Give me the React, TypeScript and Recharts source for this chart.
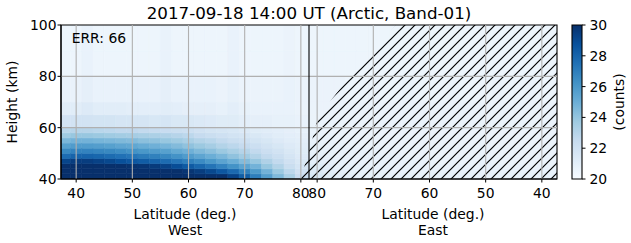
import React from 'react';
import { ComposedChart, XAxis, YAxis, ReferenceArea, ReferenceLine, Area, Line } from 'recharts';

const FONT = 'DejaVu Sans, sans-serif';

// along-track axis: West latitudes up to the pole crossing, then East latitudes mirrored
const xMin = 37.3;
const xMax = 125.6;
const poleX = 81.45;
const mirror = 162.9;

const westTicks = [40, 50, 60, 70, 80];
const eastTicks = [80, 70, 60, 50, 40];
const heightTicks = [40, 60, 80, 100];
const countTicks = [20, 22, 24, 26, 28, 30];

const latCentres = [38, 40, 42, 44, 46, 48, 50, 52, 54, 56, 58, 60, 62, 64, 66, 68, 70, 72, 74, 76, 78, 80];
const heightEdges = [40, 42, 44, 46, 48, 50, 52, 54, 56, 58, 60, 65, 70, 80, 90, 100];

// counts per latitude column, from 40 km upward
const westCounts = [
  [30, 30, 30, 29.2, 27.7, 26.6, 25.6, 24.6, 23.7, 22.9, 21.9, 21.1, 20.7, 20.5, 20.5],
  [30, 30, 30, 29.5, 28.0, 26.8, 25.8, 24.8, 23.9, 23.0, 21.9, 21.1, 20.7, 20.5, 20.5],
  [30, 30, 30, 29.5, 28.0, 26.8, 25.8, 24.8, 23.9, 23.0, 21.9, 21.3, 20.9, 20.7, 20.7],
  [30, 30, 30, 29.3, 27.9, 26.7, 25.7, 24.7, 23.8, 22.9, 21.8, 21.1, 20.7, 20.5, 20.5],
  [30, 30, 30, 29.1, 27.7, 26.6, 25.6, 24.6, 23.7, 22.8, 21.8, 21.1, 20.7, 20.5, 20.5],
  [30, 30, 30, 28.8, 27.5, 26.4, 25.4, 24.5, 23.6, 22.7, 21.7, 21.1, 20.7, 20.5, 20.5],
  [30, 30, 29.9, 28.5, 27.3, 26.2, 25.3, 24.4, 23.5, 22.7, 21.7, 21.0, 20.7, 20.5, 20.5],
  [30, 30, 29.8, 28.3, 27.1, 26.0, 25.1, 24.2, 23.4, 22.6, 21.7, 21.0, 20.7, 20.5, 20.5],
  [30, 30, 29.6, 28.0, 26.9, 25.8, 24.9, 24.1, 23.3, 22.5, 21.6, 21.0, 20.7, 20.5, 20.5],
  [30, 30, 29.3, 27.7, 26.6, 25.6, 24.7, 23.9, 23.2, 22.4, 21.7, 21.1, 20.9, 20.7, 20.7],
  [30, 30, 28.9, 27.3, 26.2, 25.2, 24.4, 23.7, 23.0, 22.3, 21.5, 21.0, 20.7, 20.5, 20.5],
  [30, 29.8, 28.4, 26.9, 25.8, 24.9, 24.1, 23.4, 22.8, 22.2, 21.5, 20.9, 20.7, 20.5, 20.5],
  [30, 29.5, 27.9, 26.5, 25.4, 24.5, 23.8, 23.1, 22.5, 22.0, 21.4, 20.9, 20.7, 20.5, 20.5],
  [30, 29.1, 27.4, 26.0, 25.0, 24.2, 23.5, 22.9, 22.3, 21.8, 21.3, 20.9, 20.7, 20.5, 20.5],
  [30, 28.5, 26.8, 25.5, 24.6, 23.8, 23.1, 22.6, 22.1, 21.7, 21.2, 20.8, 20.6, 20.5, 20.5],
  [29.3, 27.8, 26.2, 25.0, 24.1, 23.4, 22.8, 22.3, 21.9, 21.6, 21.2, 21.0, 20.8, 20.7, 20.7],
  [28.3, 26.9, 25.5, 24.4, 23.6, 23.0, 22.5, 22.1, 21.7, 21.4, 21.0, 20.8, 20.6, 20.5, 20.5],
  [27.0, 25.9, 24.8, 23.9, 23.1, 22.6, 22.2, 21.8, 21.5, 21.2, 20.9, 20.7, 20.6, 20.5, 20.5],
  [25.7, 24.8, 23.9, 23.2, 22.6, 22.2, 21.9, 21.6, 21.3, 21.1, 20.9, 20.7, 20.6, 20.5, 20.5],
  [24.5, 23.8, 23.1, 22.6, 22.2, 21.9, 21.6, 21.3, 21.1, 21.0, 20.8, 20.7, 20.6, 20.5, 20.5],
  [23.4, 22.8, 22.3, 22.0, 21.7, 21.5, 21.3, 21.1, 21.0, 20.9, 20.8, 20.7, 20.7, 20.6, 20.6],
  [22.4, 22.0, 21.7, 21.5, 21.3, 21.2, 21.1, 21.0, 20.9, 20.8, 20.7, 20.6, 20.6, 20.5, 20.5],
];

const eastCounts = [
  [20.7, 20.7, 20.6, 20.6, 20.6, 20.6, 20.6, 20.6, 20.6, 20.6, 20.6, 20.6, 20.5, 20.5, 20.5],
  [20.7, 20.7, 20.7, 20.6, 20.6, 20.6, 20.6, 20.6, 20.6, 20.6, 20.6, 20.6, 20.5, 20.5, 20.5],
  [20.7, 20.7, 20.6, 20.6, 20.6, 20.6, 20.6, 20.6, 20.6, 20.6, 20.6, 20.6, 20.6, 20.5, 20.5],
  [20.7, 20.7, 20.7, 20.6, 20.6, 20.6, 20.6, 20.6, 20.6, 20.6, 20.6, 20.6, 20.5, 20.5, 20.5],
  [20.7, 20.7, 20.6, 20.6, 20.6, 20.6, 20.6, 20.6, 20.6, 20.6, 20.6, 20.6, 20.5, 20.5, 20.5],
  [20.7, 20.7, 20.7, 20.6, 20.6, 20.6, 20.6, 20.6, 20.6, 20.6, 20.6, 20.6, 20.6, 20.5, 20.5],
  [20.7, 20.7, 20.7, 20.7, 20.6, 20.6, 20.6, 20.6, 20.6, 20.6, 20.6, 20.6, 20.5, 20.5, 20.5],
  [20.7, 20.7, 20.6, 20.6, 20.6, 20.6, 20.6, 20.6, 20.6, 20.6, 20.6, 20.6, 20.5, 20.5, 20.5],
  [20.7, 20.7, 20.7, 20.6, 20.6, 20.6, 20.6, 20.6, 20.6, 20.6, 20.6, 20.6, 20.5, 20.5, 20.5],
  [20.7, 20.7, 20.7, 20.7, 20.6, 20.6, 20.6, 20.6, 20.6, 20.6, 20.6, 20.6, 20.6, 20.5, 20.5],
  [20.7, 20.7, 20.7, 20.6, 20.6, 20.6, 20.6, 20.6, 20.6, 20.6, 20.6, 20.6, 20.5, 20.5, 20.5],
  [20.7, 20.7, 20.7, 20.7, 20.6, 20.6, 20.6, 20.6, 20.6, 20.6, 20.6, 20.6, 20.5, 20.5, 20.5],
  [20.7, 20.7, 20.7, 20.7, 20.6, 20.6, 20.6, 20.6, 20.6, 20.6, 20.6, 20.6, 20.5, 20.5, 20.5],
  [20.8, 20.7, 20.7, 20.7, 20.6, 20.6, 20.6, 20.6, 20.6, 20.6, 20.6, 20.6, 20.6, 20.5, 20.5],
  [20.8, 20.7, 20.7, 20.7, 20.7, 20.6, 20.6, 20.6, 20.6, 20.6, 20.6, 20.6, 20.5, 20.5, 20.5],
  [20.8, 20.8, 20.7, 20.7, 20.7, 20.6, 20.6, 20.6, 20.6, 20.6, 20.6, 20.6, 20.5, 20.5, 20.5],
  [20.8, 20.8, 20.7, 20.7, 20.7, 20.7, 20.6, 20.6, 20.6, 20.6, 20.6, 20.6, 20.6, 20.5, 20.5],
  [20.8, 20.8, 20.8, 20.7, 20.7, 20.7, 20.6, 20.6, 20.6, 20.6, 20.6, 20.6, 20.5, 20.5, 20.5],
  [20.9, 20.8, 20.8, 20.7, 20.7, 20.7, 20.6, 20.6, 20.6, 20.6, 20.6, 20.6, 20.5, 20.5, 20.5],
  [21.0, 20.9, 20.8, 20.8, 20.7, 20.7, 20.7, 20.6, 20.6, 20.6, 20.6, 20.6, 20.6, 20.5, 20.5],
  [21.2, 21.1, 21.0, 20.9, 20.8, 20.8, 20.7, 20.7, 20.7, 20.6, 20.6, 20.6, 20.6, 20.5, 20.5],
  [21.6, 21.4, 21.2, 21.0, 20.9, 20.8, 20.8, 20.7, 20.7, 20.7, 20.6, 20.6, 20.6, 20.5, 20.5],
];

// edge of the no-data (hatched) region: top height reached at each along-track position
const hatchEdge = [
  { x: 79.3, top: 40 },
  { x: 80.4, top: 43.5 },
  { x: 81.3, top: 49.4 },
  { x: 82.0, top: 55.2 },
  { x: 82.9, top: 63.0 },
  { x: 85.4, top: 70.8 },
  { x: 88.9, top: 80.5 },
  { x: 92.9, top: 90.3 },
  { x: 97.0, top: 100 },
  { x: 125.6, top: 100 },
];

const bluesRamp = ['#f7fbff', '#deebf7', '#c6dbef', '#9ecae1', '#6baed6', '#4292c6', '#2171b5', '#08519c', '#08306b'];

const toRgb = (h: string) => [1, 3, 5].map((i) => parseInt(h.slice(i, i + 2), 16));

function countColour(v: number) {
  const t = Math.min(Math.max((v - 20) / 10, 0), 1) * (bluesRamp.length - 1);
  const i = Math.min(Math.floor(t), bluesRamp.length - 2);
  const f = t - i;
  const a = toRgb(bluesRamp[i]);
  const b = toRgb(bluesRamp[i + 1]);
  return `rgb(${a.map((c, k) => Math.round(c + (b[k] - c) * f)).join(',')})`;
}

const latEdges = latCentres.map((c, i) => (i === 0 ? xMin : (latCentres[i - 1] + c) / 2)).concat(poleX);

const cells: { x1: number; x2: number; y1: number; y2: number; fill: string }[] = [];
latCentres.forEach((_, i) => {
  westCounts[i].forEach((v, j) => {
    cells.push({ x1: latEdges[i], x2: latEdges[i + 1], y1: heightEdges[j], y2: heightEdges[j + 1], fill: countColour(v) });
  });
  eastCounts[i].forEach((v, j) => {
    cells.push({ x1: mirror - latEdges[i + 1], x2: mirror - latEdges[i], y1: heightEdges[j], y2: heightEdges[j + 1], fill: countColour(v) });
  });
});

const xTicks = [...westTicks, ...eastTicks.map((l) => mirror - l)];
const latLabel = (v: number) => String(Math.round(v <= poleX ? v : mirror - v));

const tickStyle = { fill: '#000', fontSize: 13.9, fontFamily: FONT };

const sideLabel = (side: string) => (props: any) => {
  const vb = props.viewBox;
  return (
    <text x={vb.x} y={vb.y + vb.height + 39.6} textAnchor="middle" fontSize={13.9} fontFamily={FONT} fill="#000">
      <tspan x={vb.x}>Latitude (deg.)</tspan>
      <tspan x={vb.x} dy={16}>{side}</tspan>
    </text>
  );
};

const heightLabel = (props: any) => {
  const vb = props.viewBox;
  const x = vb.x + 16.5;
  const y = vb.y + vb.height / 2;
  return (
    <text x={x} y={y} transform={`rotate(-90, ${x}, ${y})`} textAnchor="middle" fontSize={13.9} fontFamily={FONT} fill="#000">
      Height (km)
    </text>
  );
};

const countsLabel = (props: any) => {
  const vb = props.viewBox;
  const x = vb.x + 42.3;
  const y = vb.y + vb.height / 2;
  return (
    <text x={x} y={y} transform={`rotate(-90, ${x}, ${y})`} textAnchor="middle" fontSize={13.9} fontFamily={FONT} fill="#000">
      (counts)
    </text>
  );
};

const rampData = countTicks.map((v) => ({ x: 0.5, v }));

export default function App() {
  return (
    <div style={{ position: 'relative', width: 631, height: 243, background: '#fff' }}>
      <style>{'body{margin:0}'}</style>
      <svg width={631} height={30} style={{ position: 'absolute', left: 0, top: 0 }}>
        <text x={309} y={19} textAnchor="middle" fontSize={16.7} fontFamily={FONT} fill="#000">
          2017-09-18 14:00 UT (Arctic, Band-01)
        </text>
      </svg>
      <div style={{ position: 'absolute', left: 0, top: 0 }}>
        <ComposedChart width={631} height={243} data={hatchEdge} margin={{ top: 25, right: 74, bottom: 0, left: 0 }}>
          <defs>
            <pattern id="hatch" patternUnits="userSpaceOnUse" width={10} height={10}>
              <path d="M0,10 L10,0 M-2,2 L2,-2 M8,12 L12,8" stroke="#000" strokeWidth={1.2} />
            </pattern>
          </defs>
          <XAxis
            dataKey="x"
            type="number"
            domain={[xMin, xMax]}
            ticks={xTicks}
            interval={0}
            tickFormatter={latLabel}
            height={64}
            tickSize={3.5}
            tickMargin={6}
            tick={tickStyle}
            tickLine={{ stroke: '#000' }}
            axisLine={{ stroke: '#000', strokeWidth: 1.1 }}
          />
          <YAxis
            type="number"
            domain={[40, 100]}
            ticks={heightTicks}
            width={61}
            tickSize={3.5}
            tickMargin={1}
            tick={tickStyle}
            tickLine={{ stroke: '#000' }}
            axisLine={{ stroke: '#000', strokeWidth: 1.1 }}
            label={{ content: heightLabel }}
          />
          {cells.map((c, i) => (
            <ReferenceArea
              key={i}
              x1={c.x1}
              x2={c.x2}
              y1={c.y1}
              y2={c.y2}
              fill={c.fill}
              fillOpacity={1}
              stroke={c.fill}
              strokeWidth={0.6}
              ifOverflow="hidden"
            />
          ))}
          {xTicks.map((t) => (
            <ReferenceLine key={'gx' + t} x={t} stroke="#b0b0b0" strokeWidth={1.1} />
          ))}
          {heightTicks.slice(1, -1).map((t) => (
            <ReferenceLine key={'gy' + t} y={t} stroke="#b0b0b0" strokeWidth={1.1} />
          ))}
          <Area
            dataKey={(d: any) => [40, d.top]}
            type="linear"
            stroke="none"
            fill="url(#hatch)"
            fillOpacity={1}
            isAnimationActive={false}
            activeDot={false}
            dot={false}
          />
          <ReferenceLine x={poleX} stroke="#000" strokeWidth={1.1} />
          <ReferenceArea x1={xMin} x2={xMax} y1={40} y2={100} fill="none" fillOpacity={0} stroke="#000" strokeWidth={1.1} />
          <ReferenceLine x={(xMin + poleX) / 2} stroke="none" label={{ content: sideLabel('West') }} />
          <ReferenceLine x={(poleX + xMax) / 2} stroke="none" label={{ content: sideLabel('East') }} />
        </ComposedChart>
      </div>
      <svg width={631} height={243} style={{ position: 'absolute', left: 0, top: 0, pointerEvents: 'none' }}>
        <text x={71.7} y={43} fontSize={13.9} fontFamily={FONT} fill="#000">
          ERR: 66
        </text>
      </svg>
      <div style={{ position: 'absolute', left: 560, top: 0 }}>
        <ComposedChart width={71} height={243} data={rampData} margin={{ top: 25, right: 0, bottom: 64, left: 12 }}>
          <defs>
            <linearGradient id="countsRamp" x1="0" y1="1" x2="0" y2="0">
              {bluesRamp.map((c, i) => (
                <stop key={c} offset={`${(i / (bluesRamp.length - 1)) * 100}%`} stopColor={c} />
              ))}
            </linearGradient>
          </defs>
          <XAxis dataKey="x" type="number" domain={[0, 1]} hide />
          <YAxis
            orientation="right"
            type="number"
            domain={[20, 30]}
            ticks={countTicks}
            width={49}
            tickSize={3.5}
            tickMargin={4}
            tick={tickStyle}
            tickLine={{ stroke: '#000' }}
            axisLine={false}
            label={{ content: countsLabel }}
          />
          <Line dataKey="v" stroke="none" dot={false} activeDot={false} isAnimationActive={false} />
          <ReferenceArea x1={0} x2={1} y1={20} y2={30} fill="url(#countsRamp)" fillOpacity={1} stroke="#000" strokeWidth={1.1} />
        </ComposedChart>
      </div>
    </div>
  );
}
